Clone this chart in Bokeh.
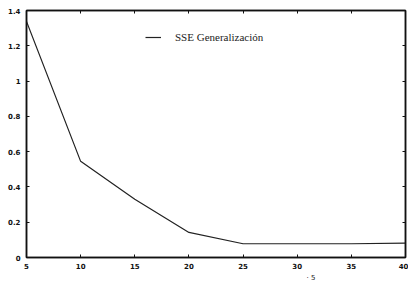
from bokeh.plotting import figure
from bokeh.models import Legend, LegendItem, Title, FixedTicker, LinearAxis
from bokeh.embed import file_html
from bokeh.resources import INLINE

epochs = [5, 10, 15, 20, 25, 30, 35, 40]
sse_gen = [1.338, 0.545, 0.33, 0.142, 0.078, 0.078, 0.078, 0.082]
x_ticks = [5, 10, 15, 20, 25, 30, 35, 40]
y_ticks = [0, 0.2, 0.4, 0.6, 0.8, 1.0, 1.2, 1.4]
y_tick_labels = {0: "0", 0.2: "0.2", 0.4: "0.4", 0.6: "0.6", 0.8: "0.8", 1.0: "1", 1.2: "1.2", 1.4: "1.4"}
legend_label = "SSE Generalización"

p = figure(width=408, height=283, output_backend="svg", toolbar_location=None,
           x_range=(x_ticks[0], x_ticks[-1]), y_range=(y_ticks[0], y_ticks[-1]),
           min_border_left=26, min_border_right=3, min_border_top=10, min_border_bottom=26)
p.background_fill_color = "white"
p.border_fill_color = "white"
p.grid.visible = False
p.outline_line_color = "#111111"
p.outline_line_width = 1.5

r = p.line(epochs, sse_gen, line_color="#222222", line_width=1.2)

xax = p.xaxis[0]
yax = p.yaxis[0]

# top and right frame edges with inward ticks (labels hidden)
right_ax = LinearAxis(ticker=FixedTicker(ticks=y_ticks), major_label_standoff=0,
                      major_label_text_font_size="1px", major_label_text_alpha=0)
top_ax = LinearAxis(ticker=FixedTicker(ticks=x_ticks), major_label_standoff=0,
                    major_label_text_font_size="1px", major_label_text_alpha=0)
p.add_layout(right_ax, "right")
p.add_layout(top_ax, "above")

for ax in (xax, yax, right_ax, top_ax):
    ax.axis_line_color = "#111111"
    ax.axis_line_width = 1.5
    ax.major_tick_in = 3
    ax.major_tick_out = 0
    ax.minor_tick_line_color = None
    ax.major_tick_line_color = "#111111"

for ax in (xax, yax):
    ax.major_label_text_font = "DejaVu Sans"
    ax.major_label_text_font_size = "7px"
    ax.major_label_text_font_style = "bold"
    ax.major_label_text_color = "#111111"

xax.ticker = FixedTicker(ticks=x_ticks)
yax.ticker = FixedTicker(ticks=y_ticks)
yax.major_label_overrides = y_tick_labels
xax.major_label_standoff = 5
yax.major_label_standoff = 6

legend = Legend(items=[LegendItem(label=legend_label, renderers=[r])],
                location=(119, 210), margin=0, padding=0,
                border_line_color=None, background_fill_alpha=0,
                glyph_width=16, label_standoff=14,
                label_text_font="Liberation Serif", label_text_font_size="11px",
                label_text_color="#222222")
p.add_layout(legend, "center")

p.add_layout(Title(text="· 5", align="left", offset=280, text_font="DejaVu Sans",
                   text_font_size="7px", text_font_style="normal", text_color="#222222",
                   standoff=0), "below")

open("out.html", "w").write(file_html(p, INLINE))
